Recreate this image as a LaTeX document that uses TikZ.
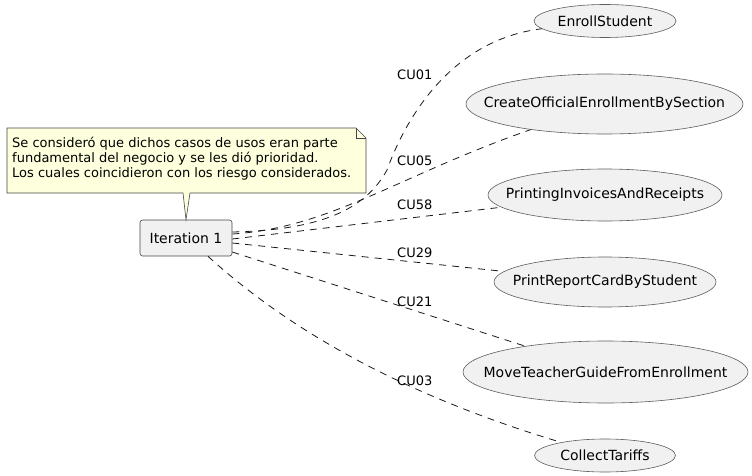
\documentclass[tikz,border=0pt]{standalone}
\usepackage{fontspec}
\setmainfont{DejaVu Sans}
\usetikzlibrary{shapes.geometric}
\definecolor{ucfill}{HTML}{F1F1F1}
\definecolor{linec}{HTML}{181818}
\definecolor{notefill}{HTML}{FEFFDD}
\newcommand{\uctext}[1]{\makebox[0pt][c]{#1}}
\tikzset{
  uc/.style={ellipse,draw=linec!70,line width=0.6pt,fill=ucfill,inner sep=0pt,
    font=\fontsize{14}{16}\selectfont},
  iterbox/.style={draw=linec!80,line width=0.6pt,fill=ucfill,rounded corners=2.5pt,
    minimum width=92pt,minimum height=36pt,inner sep=0pt,font=\fontsize{14}{16}\selectfont},
  link/.style={draw=linec,line width=0.8pt,dash pattern=on 7pt off 6pt},
  lbl/.style={anchor=west,inner sep=0pt,font=\fontsize{13}{15}\selectfont},
}
\begin{document}
\begin{tikzpicture}[x=1pt,y=-1pt]
\useasboundingbox (0,0) rectangle (752,476);
% use cases
\node[uc,minimum width=142pt,minimum height=33pt] (e1) at (605,21) {\uctext{EnrollStudent}};
\node[uc,minimum width=277pt,minimum height=60pt] (e2) at (604.5,104) {\uctext{CreateOfficialEnrollmentBySection}};
\node[uc,minimum width=234pt,minimum height=52pt] (e3) at (605,195) {\uctext{PrintingInvoicesAndReceipts}};
\node[uc,minimum width=222pt,minimum height=50pt] (e4) at (605,282) {\uctext{PrintReportCardByStudent}};
\node[uc,minimum width=285pt,minimum height=62pt] (e5) at (605.5,372) {\uctext{MoveTeacherGuideFromEnrollment}};
\node[uc,minimum width=141pt,minimum height=33pt] (e6) at (605,455.5) {\uctext{CollectTariffs}};
% iteration
\node[iterbox] (it) at (186,238) {Iteration 1};
% note
\coordinate (nb1) at (183,193);
\coordinate (nb2) at (190,193);
\filldraw[draw=linec!80,line width=0.6pt,fill=notefill]
  (7,128) -- (356,128) -- (366,138) -- (366,193) -- (nb2) -- (it.north) -- (nb1) -- (7,193) -- cycle;
\draw[linec!80,line width=0.6pt] (356,128) -- (356,138) -- (366,138);
\node[anchor=base west,align=left,inner sep=0pt,font=\fontsize{13}{15}\selectfont] (note) at (12,177)
  {Se consideró que dichos casos de usos eran parte\\fundamental del negocio y se les dió prioridad.\\Los cuales coincidieron con los riesgo considerados.};
% links
\draw[link] ([yshift=6pt]it.east) .. controls (320,230) and (365,210) .. (387,170)
  .. controls (405,120) and (450,40) .. (e1);
\draw[link] ([yshift=4pt]it.east) .. controls (330,228) and (400,175) .. (e2);
\draw[link] ([yshift=-1pt]it.east) -- (e3);
\draw[link] ([yshift=-5pt]it.east) -- (e4);
\draw[link] ([yshift=-14pt]it.east) -- (e5);
\draw[link] ([xshift=22pt]it.south) .. controls (300,340) and (420,400) .. (e6);
% labels
\node[lbl] (l1) at (397,75) {CU01};
\node[lbl] (l2) at (397,161) {CU05};
\node[lbl] (l3) at (397,205) {CU58};
\node[lbl] (l4) at (397,253) {CU29};
\node[lbl] (l5) at (397,302) {CU21};
\node[lbl] (l6) at (397,381) {CU03};
\end{tikzpicture}
\end{document}
